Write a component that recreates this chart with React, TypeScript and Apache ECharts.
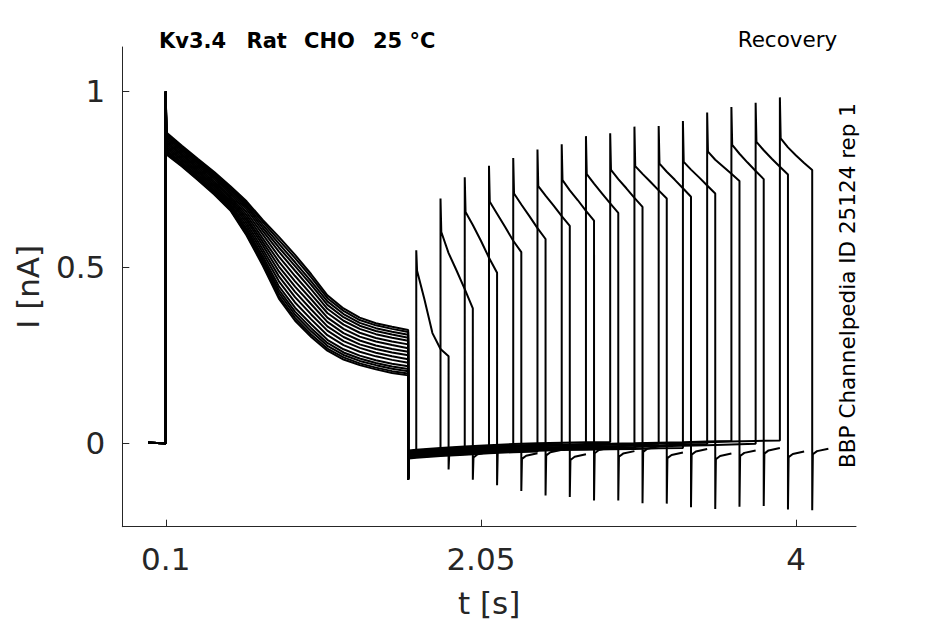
import React, { useEffect, useRef } from "react";
import * as echarts from "echarts";

// axis ticks
const xTicks = [0.1, 2.05, 4];
const yTicks = [0, 0.5, 1];

// conditioning pulse (0.1 s -> 1.6 s), one row per sweep
const mainT = [0.104, 0.2, 0.3, 0.4, 0.5, 0.6, 0.7, 0.8, 0.9, 1.0, 1.1, 1.2, 1.3, 1.4, 1.5, 1.6];
const mainPeak = [0.995, 0.998, 1.0, 0.996, 0.999, 1.0, 0.997, 0.998, 1.0, 0.996, 0.999, 1.0, 0.998, 0.997, 1.0, 0.999];
const mainDecay = [
  [0.820, 0.786, 0.747, 0.706, 0.661, 0.590, 0.505, 0.411, 0.348, 0.302, 0.263, 0.238, 0.222, 0.210, 0.200, 0.193],
  [0.822, 0.788, 0.749, 0.709, 0.664, 0.594, 0.510, 0.418, 0.356, 0.309, 0.269, 0.244, 0.227, 0.215, 0.205, 0.198],
  [0.826, 0.791, 0.752, 0.712, 0.667, 0.599, 0.517, 0.427, 0.365, 0.318, 0.277, 0.251, 0.234, 0.222, 0.212, 0.205],
  [0.829, 0.794, 0.755, 0.715, 0.671, 0.604, 0.523, 0.436, 0.374, 0.327, 0.285, 0.258, 0.241, 0.228, 0.218, 0.211],
  [0.832, 0.798, 0.759, 0.719, 0.675, 0.609, 0.531, 0.446, 0.385, 0.338, 0.294, 0.267, 0.249, 0.236, 0.226, 0.219],
  [0.837, 0.803, 0.764, 0.724, 0.680, 0.617, 0.541, 0.460, 0.400, 0.352, 0.307, 0.279, 0.260, 0.247, 0.237, 0.229],
  [0.842, 0.807, 0.769, 0.729, 0.686, 0.625, 0.551, 0.474, 0.415, 0.366, 0.320, 0.290, 0.271, 0.257, 0.247, 0.239],
  [0.847, 0.812, 0.773, 0.734, 0.691, 0.633, 0.562, 0.488, 0.430, 0.380, 0.332, 0.302, 0.281, 0.268, 0.258, 0.250],
  [0.852, 0.817, 0.778, 0.739, 0.697, 0.640, 0.572, 0.502, 0.445, 0.395, 0.345, 0.313, 0.292, 0.278, 0.268, 0.260],
  [0.857, 0.821, 0.783, 0.744, 0.702, 0.648, 0.582, 0.516, 0.460, 0.409, 0.357, 0.325, 0.303, 0.289, 0.279, 0.270],
  [0.862, 0.826, 0.788, 0.750, 0.708, 0.656, 0.593, 0.530, 0.475, 0.423, 0.370, 0.337, 0.314, 0.299, 0.289, 0.281],
  [0.867, 0.831, 0.793, 0.755, 0.713, 0.664, 0.603, 0.544, 0.490, 0.437, 0.382, 0.348, 0.325, 0.310, 0.300, 0.291],
  [0.872, 0.835, 0.797, 0.759, 0.718, 0.671, 0.612, 0.556, 0.503, 0.450, 0.393, 0.358, 0.334, 0.319, 0.309, 0.300],
  [0.875, 0.839, 0.800, 0.763, 0.722, 0.676, 0.620, 0.567, 0.514, 0.460, 0.403, 0.367, 0.342, 0.327, 0.317, 0.308],
  [0.879, 0.842, 0.804, 0.767, 0.727, 0.682, 0.628, 0.577, 0.526, 0.471, 0.412, 0.376, 0.350, 0.335, 0.325, 0.316],
  [0.882, 0.845, 0.807, 0.770, 0.730, 0.687, 0.634, 0.586, 0.535, 0.480, 0.420, 0.383, 0.357, 0.341, 0.331, 0.322],
];
const stepSpike = [-0.1, -0.098, -0.104, -0.101, -0.099, -0.103, -0.1, -0.102, -0.097, -0.1, -0.104, -0.099, -0.101, -0.1, -0.098, -0.103];

// holding level between the pulses, read at each test-pulse start
const pulseStart = [1.65, 1.8, 1.95, 2.1, 2.25, 2.4, 2.55, 2.7, 2.85, 3.0, 3.15, 3.3, 3.45, 3.6, 3.75, 3.9];
const baseline = [-0.03, -0.025, -0.021, -0.017, -0.014, -0.012, -0.01, -0.009, -0.008, -0.007, -0.005, -0.004, -0.002, 0.0, 0.002, 0.003];
const holdOffset = [0.006, -0.004, 0.01, -0.008, 0.002, -0.011, 0.008, -0.002, 0.012, -0.006, 0.004, -0.009, 0.0, 0.007, -0.003, 0.005];

// test pulse (0.2 s)
const recPeak = [0.548, 0.695, 0.755, 0.788, 0.81, 0.834, 0.849, 0.872, 0.88, 0.899, 0.901, 0.915, 0.939, 0.955, 0.967, 0.982];
const recT = [0.005, 0.05, 0.1, 0.15, 0.2];
const recDecay = [
  [0.49, 0.41, 0.313, 0.268, 0.247],
  [0.6, 0.54, 0.49, 0.438, 0.383],
  [0.657, 0.62, 0.575, 0.527, 0.484],
  [0.686, 0.652, 0.614, 0.575, 0.543],
  [0.709, 0.678, 0.645, 0.611, 0.58],
  [0.73, 0.703, 0.675, 0.645, 0.617],
  [0.747, 0.718, 0.69, 0.66, 0.632],
  [0.764, 0.737, 0.709, 0.681, 0.654],
  [0.776, 0.75, 0.724, 0.697, 0.671],
  [0.787, 0.765, 0.742, 0.718, 0.695],
  [0.794, 0.771, 0.748, 0.724, 0.7],
  [0.799, 0.777, 0.755, 0.732, 0.709],
  [0.828, 0.805, 0.785, 0.765, 0.745],
  [0.847, 0.822, 0.797, 0.773, 0.75],
  [0.856, 0.832, 0.808, 0.785, 0.763],
  [0.866, 0.84, 0.817, 0.796, 0.776],
];
const recSpike = [-0.074, -0.103, -0.119, -0.135, -0.148, -0.152, -0.162, -0.162, -0.17, -0.171, -0.181, -0.186, -0.18, -0.178, -0.188, -0.19];
const tailT = [0.004, 0.03, 0.1];
const tailV = [-0.036, -0.027, -0.02];

const buildSweep = (k: number) => {
  const off = holdOffset[k];
  const pts: number[][] = [[-0.01, 0.002], [0.1, 0], [0.1, mainPeak[k]]];
  mainT.forEach((t, i) => pts.push([t, mainDecay[k][i]]));
  pts.push([1.6, stepSpike[k]], [1.604, -0.032 + off]);
  for (let j = 0; j <= k; j++) pts.push([pulseStart[j], baseline[j] + off]);
  const s = pulseStart[k];
  pts.push([s, recPeak[k]]);
  recT.forEach((t, i) => pts.push([s + t, recDecay[k][i]]));
  const e = s + recT[recT.length - 1];
  pts.push([e, recSpike[k]]);
  tailT.forEach((t, i) => pts.push([e + t, tailV[i] + off]));
  return pts;
};

const App = () => {
  const chartContainer = useRef<HTMLDivElement>(null);

  useEffect(() => {
    if (!chartContainer.current) return;
    const chart = echarts.init(chartContainer.current, null, { renderer: "svg" });
    const axisColor = "#262626";
    const font = "DejaVu Sans";
    const titleStyle = { fontFamily: font, fontWeight: "bold", fontSize: 21, fill: "#000", textAlign: "left", textVerticalAlign: "middle" };

    const option: echarts.EChartsOption = {
      animation: false,
      backgroundColor: "#ffffff",
      grid: { left: 122.3, right: 89, top: 47, bottom: 97.3 },
      xAxis: {
        type: "value",
        min: -0.169,
        max: 4.371,
        name: "t [s]",
        nameLocation: "middle",
        nameGap: 61,
        nameTextStyle: { fontFamily: font, fontSize: 31, color: axisColor },
        axisLine: { onZero: false, lineStyle: { color: axisColor, width: 1 } },
        axisTick: { inside: true, length: 7, customValues: xTicks, lineStyle: { color: axisColor } },
        axisLabel: {
          customValues: xTicks,
          margin: 17,
          fontFamily: font,
          fontSize: 31,
          color: axisColor,
          formatter: (v: number) => String(v),
        },
        splitLine: { show: false },
      },
      yAxis: {
        type: "value",
        min: -0.2365,
        max: 1.125,
        name: "I [nA]",
        nameLocation: "middle",
        nameRotate: 90,
        nameGap: 79,
        nameTextStyle: { fontFamily: font, fontSize: 31, color: axisColor },
        axisLine: { show: true, onZero: false, lineStyle: { color: axisColor, width: 1 } },
        axisTick: { show: true, inside: true, length: 7, customValues: yTicks, lineStyle: { color: axisColor } },
        axisLabel: {
          customValues: yTicks,
          margin: 17,
          fontFamily: font,
          fontSize: 31,
          color: axisColor,
          formatter: (v: number) => String(v),
        },
        splitLine: { show: false },
      },
      graphic: [
        { type: "text", x: 159, y: 40.5, style: { ...titleStyle, text: "Kv3.4" } },
        { type: "text", x: 246.5, y: 40.5, style: { ...titleStyle, text: "Rat" } },
        { type: "text", x: 304, y: 40.5, style: { ...titleStyle, text: "CHO" } },
        { type: "text", x: 373, y: 40.5, style: { ...titleStyle, text: "25 °C" } },
        { type: "text", x: 787.5, y: 39.5, style: { text: "Recovery", fontFamily: font, fontSize: 21.5, fill: "#000", textAlign: "center", textVerticalAlign: "middle" } },
        { type: "text", x: 847.5, y: 285.5, rotation: Math.PI / 2, style: { text: "BBP Channelpedia ID 25124 rep 1", fontFamily: font, fontSize: 21.5, fill: "#000", textAlign: "center", textVerticalAlign: "middle" } },
      ],
      series: recPeak.map((_, k) => ({
        name: `sweep ${k + 1}`,
        type: "line" as const,
        data: buildSweep(k),
        showSymbol: false,
        silent: true,
        lineStyle: { color: "#000", width: 2 },
      })),
    };

    chart.setOption(option);
    return () => {
      chart.dispose();
    };
  }, []);

  return (
    <div
      ref={chartContainer}
      style={{ position: "fixed", left: 0, top: 0, width: 945, height: 624, background: "#fff" }}
    />
  );
};

export default App;
